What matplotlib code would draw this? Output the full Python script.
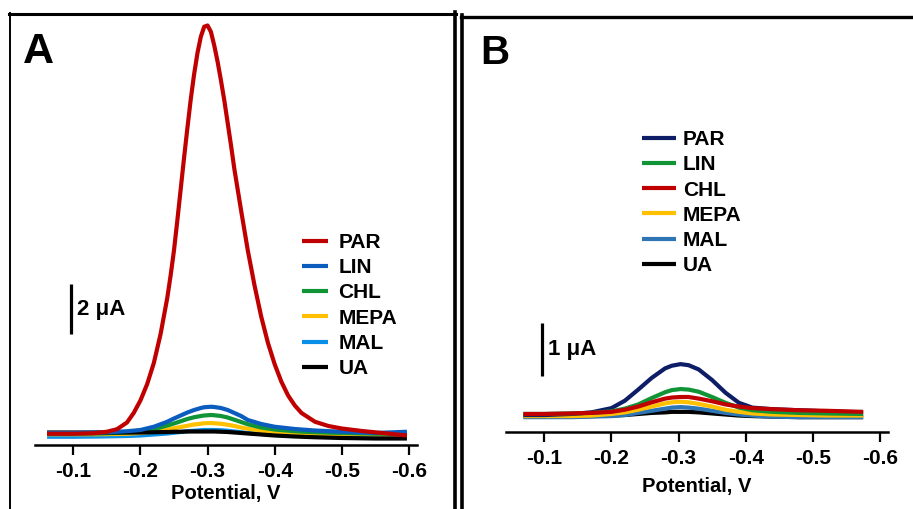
"""
Square-wave voltammograms, panels A and B
"""
import matplotlib
matplotlib.use("Agg")
import matplotlib.pyplot as plt
from matplotlib.lines import Line2D

W, H = 913, 509

labels = ["PAR", "LIN", "CHL", "MEPA", "MAL", "UA"]

# panel A: potential (V) and current (uA, baseline-relative)
pot_a = [-0.061, -0.10, -0.14, -0.16, -0.18, -0.20, -0.22, -0.24, -0.25, -0.26,
         -0.27, -0.28, -0.29, -0.295, -0.305, -0.31, -0.32, -0.33, -0.34, -0.35,
         -0.36, -0.38, -0.40, -0.43, -0.46, -0.50, -0.55, -0.597]
lin_a = [0.0, 0.0, 0.02, 0.04, 0.07, 0.12, 0.25, 0.45, 0.58, 0.70,
         0.82, 0.92, 1.0, 1.03, 1.05, 1.04, 1.0, 0.92, 0.80, 0.68,
         0.52, 0.36, 0.25, 0.16, 0.10, 0.05, 0.0, 0.05]
chl_a = [-0.03, -0.03, -0.02, 0.0, 0.02, 0.06, 0.15, 0.30, 0.38, 0.47,
         0.56, 0.63, 0.68, 0.70, 0.72, 0.71, 0.68, 0.62, 0.53, 0.44,
         0.35, 0.22, 0.14, 0.07, 0.03, 0.0, -0.03, -0.03]
mepa_a = [-0.05, -0.05, -0.05, -0.04, -0.03, 0.0, 0.06, 0.14, 0.19, 0.24,
          0.29, 0.34, 0.37, 0.39, 0.40, 0.39, 0.37, 0.33, 0.28, 0.22,
          0.17, 0.09, 0.04, 0.0, -0.03, -0.05, -0.06, -0.06]
mal_a = [-0.15, -0.15, -0.14, -0.13, -0.12, -0.10, -0.06, -0.02, 0.01, 0.04,
         0.07, 0.09, 0.11, 0.12, 0.12, 0.12, 0.11, 0.09, 0.06, 0.03,
         0.0, -0.04, -0.07, -0.10, -0.12, -0.14, -0.15, -0.10]
ua_a = [0.02, 0.02, 0.02, 0.02, 0.02, 0.02, 0.03, 0.04, 0.05, 0.05,
        0.06, 0.06, 0.06, 0.06, 0.06, 0.06, 0.05, 0.04, 0.02, 0.0,
        -0.02, -0.06, -0.10, -0.14, -0.17, -0.20, -0.22, -0.22]

# the big PAR peak in A is read on a finer potential grid
pot_par_a = [-0.061, -0.10, -0.13, -0.15, -0.165, -0.18, -0.19, -0.20, -0.21, -0.22,
             -0.23, -0.24, -0.245, -0.25, -0.255, -0.26, -0.265, -0.27, -0.275, -0.28,
             -0.285, -0.29, -0.295, -0.30, -0.305, -0.31, -0.315, -0.32, -0.325, -0.33,
             -0.335, -0.34, -0.35, -0.36, -0.37, -0.38, -0.39, -0.40, -0.41, -0.42,
             -0.43, -0.44, -0.46, -0.48, -0.50, -0.53, -0.56, -0.597]
par_a = [-0.03, -0.03, -0.01, 0.05, 0.15, 0.42, 0.8, 1.3, 1.95, 2.8,
         3.95, 5.4, 6.3, 7.3, 8.5, 9.75, 11.0, 12.2, 13.35, 14.35,
         15.2, 15.85, 16.25, 16.3, 16.05, 15.5, 14.85, 14.1, 13.3, 12.4,
         11.5, 10.55, 8.9, 7.3, 5.9, 4.65, 3.6, 2.75, 2.05, 1.5,
         1.1, 0.8, 0.45, 0.28, 0.18, 0.08, 0.0, -0.1]

# panel B
pot_b = [-0.069, -0.10, -0.14, -0.17, -0.20, -0.22, -0.24, -0.26, -0.28, -0.29,
         -0.303, -0.315, -0.33, -0.35, -0.37, -0.39, -0.41, -0.44, -0.48, -0.52, -0.575]
par_b = [0.0, 0.0, 0.02, 0.05, 0.13, 0.27, 0.48, 0.70, 0.88, 0.93,
         0.96, 0.94, 0.86, 0.66, 0.42, 0.23, 0.14, 0.11, 0.09, 0.07, 0.05]
lin_b = [0.02, 0.02, 0.03, 0.04, 0.07, 0.12, 0.20, 0.32, 0.43, 0.47,
         0.49, 0.48, 0.44, 0.34, 0.23, 0.14, 0.09, 0.06, 0.04, 0.03, 0.02]
chl_b = [0.02, 0.02, 0.03, 0.04, 0.06, 0.10, 0.16, 0.24, 0.31, 0.33,
         0.34, 0.34, 0.31, 0.26, 0.20, 0.16, 0.13, 0.11, 0.09, 0.08, 0.06]
mepa_b = [-0.02, -0.02, -0.02, -0.01, 0.02, 0.05, 0.10, 0.16, 0.22, 0.24,
          0.25, 0.24, 0.21, 0.16, 0.10, 0.06, 0.03, 0.01, 0.0, -0.01, -0.01]
mal_b = [-0.04, -0.04, -0.04, -0.03, -0.02, 0.0, 0.04, 0.08, 0.12, 0.14,
         0.15, 0.14, 0.12, 0.08, 0.04, 0.01, -0.01, -0.03, -0.04, -0.04, -0.04]
ua_b = [-0.03, -0.03, -0.03, -0.02, -0.01, 0.0, 0.02, 0.04, 0.05, 0.06,
        0.06, 0.06, 0.05, 0.03, 0.01, -0.01, -0.02, -0.03, -0.04, -0.04, -0.04]

ticks = [-0.1, -0.2, -0.3, -0.4, -0.5, -0.6]
tick_labels = ["-0.1", "-0.2", "-0.3", "-0.4", "-0.5", "-0.6"]

colors_a = ["#C00000", "#0B5CBF", "#109436", "#FFC000", "#0A90E8", "#000000"]
colors_b = ["#0D1D66", "#109436", "#C00000", "#FFC000", "#2E75B6", "#000000"]
zorder_a = [6, 5, 3, 2, 1, 4]
zorder_b = [3, 4, 5, 2, 1, 0]

plt.rcParams["font.family"] = ["Liberation Sans", "DejaVu Sans"]
plt.rcParams["font.weight"] = "bold"
plt.rcParams["axes.unicode_minus"] = False

fig = plt.figure(figsize=(W / 100, H / 100), dpi=100)


def fx(px):
    return px / W


def fy(py):
    return 1 - py / H


def panel(rect, series, colors, zorders, ylim, bar, bar_text, leg_xy, hl, tp, lpad):
    left, right, bottom, top = rect
    ax = fig.add_axes([fx(left), fy(bottom), fx(right - left), fy(top) - fy(bottom)])
    handles = []
    for lab, xy, c, z in zip(labels, series, colors, zorders):
        ln, = ax.plot(xy[0], xy[1], color=c, lw=3.0, label=lab, zorder=z,
                      solid_capstyle="butt", solid_joinstyle="round")
        handles.append(ln)
    ax.set_xlim(-0.043, -0.612)
    ax.set_ylim(*ylim)
    for s in ["top", "right", "left"]:
        ax.spines[s].set_visible(False)
    ax.spines["bottom"].set_linewidth(1.8)
    ax.set_yticks([])
    ax.set_xticks(ticks)
    ax.set_xticklabels(tick_labels, fontsize=15, fontweight="bold")
    ax.tick_params(axis="x", direction="out", length=7, width=1.6, pad=5)
    ax.set_xlabel("Potential, V", fontsize=14.5, fontweight="bold", labelpad=lpad)
    # scale bar
    bx, by0, by1 = bar
    ax.plot([bx, bx], [by0, by1], color="black", lw=2.3, solid_capstyle="butt")
    ax.text(bx - 0.009, (by0 + by1) / 2, bar_text, fontsize=16,
            fontweight="bold", va="center", ha="left")
    ax.legend(handles=handles, loc="upper left",
              bbox_to_anchor=(fx(leg_xy[0]), fy(leg_xy[1])),
              bbox_transform=fig.transFigure, frameon=False,
              handlelength=hl, handletextpad=tp, labelspacing=0.3,
              borderpad=0, borderaxespad=0, prop={"weight": "bold", "size": 15})
    return ax


panel((35, 417, 445, 20),
      [(pot_par_a, par_a), (pot_a, lin_a), (pot_a, chl_a), (pot_a, mepa_a),
       (pot_a, mal_a), (pot_a, ua_a)],
      colors_a, zorder_a,
      (-0.48, 16.52), (-0.097, 3.96, 5.96), "2 μA", (302, 233), 1.25, 0.5, 2.5)

panel((506, 888, 432, 20),
      [(pot_b, par_b), (pot_b, lin_b), (pot_b, chl_b), (pot_b, mepa_b),
       (pot_b, mal_b), (pot_b, ua_b)],
      colors_b, zorder_b,
      (-0.32, 7.45), (-0.097, 0.74, 1.74), "1 μA", (642, 130), 1.65, 0.3, 7)

# panel letters
fig.text(fx(23), fy(63), "A", fontsize=31, fontweight="bold", va="baseline")
fig.text(fx(480), fy(64), "B", fontsize=29, fontweight="bold", va="baseline")

# panel frames
frame = [
    ((9, 456), (13.5, 13.5), 2.2),
    ((10, 10), (13, 509), 1.4),
    ((454.5, 454.5), (12, 509), 2.6),
    ((462, 462), (15, 509), 2.6),
    ((460.5, 913), (16.7, 16.7), 2.4),
]
for xs, ys, lw in frame:
    fig.add_artist(Line2D([fx(xs[0]), fx(xs[1])], [fy(ys[0]), fy(ys[1])],
                          transform=fig.transFigure, color="black", lw=lw))

fig.savefig("out.png", dpi=100)
